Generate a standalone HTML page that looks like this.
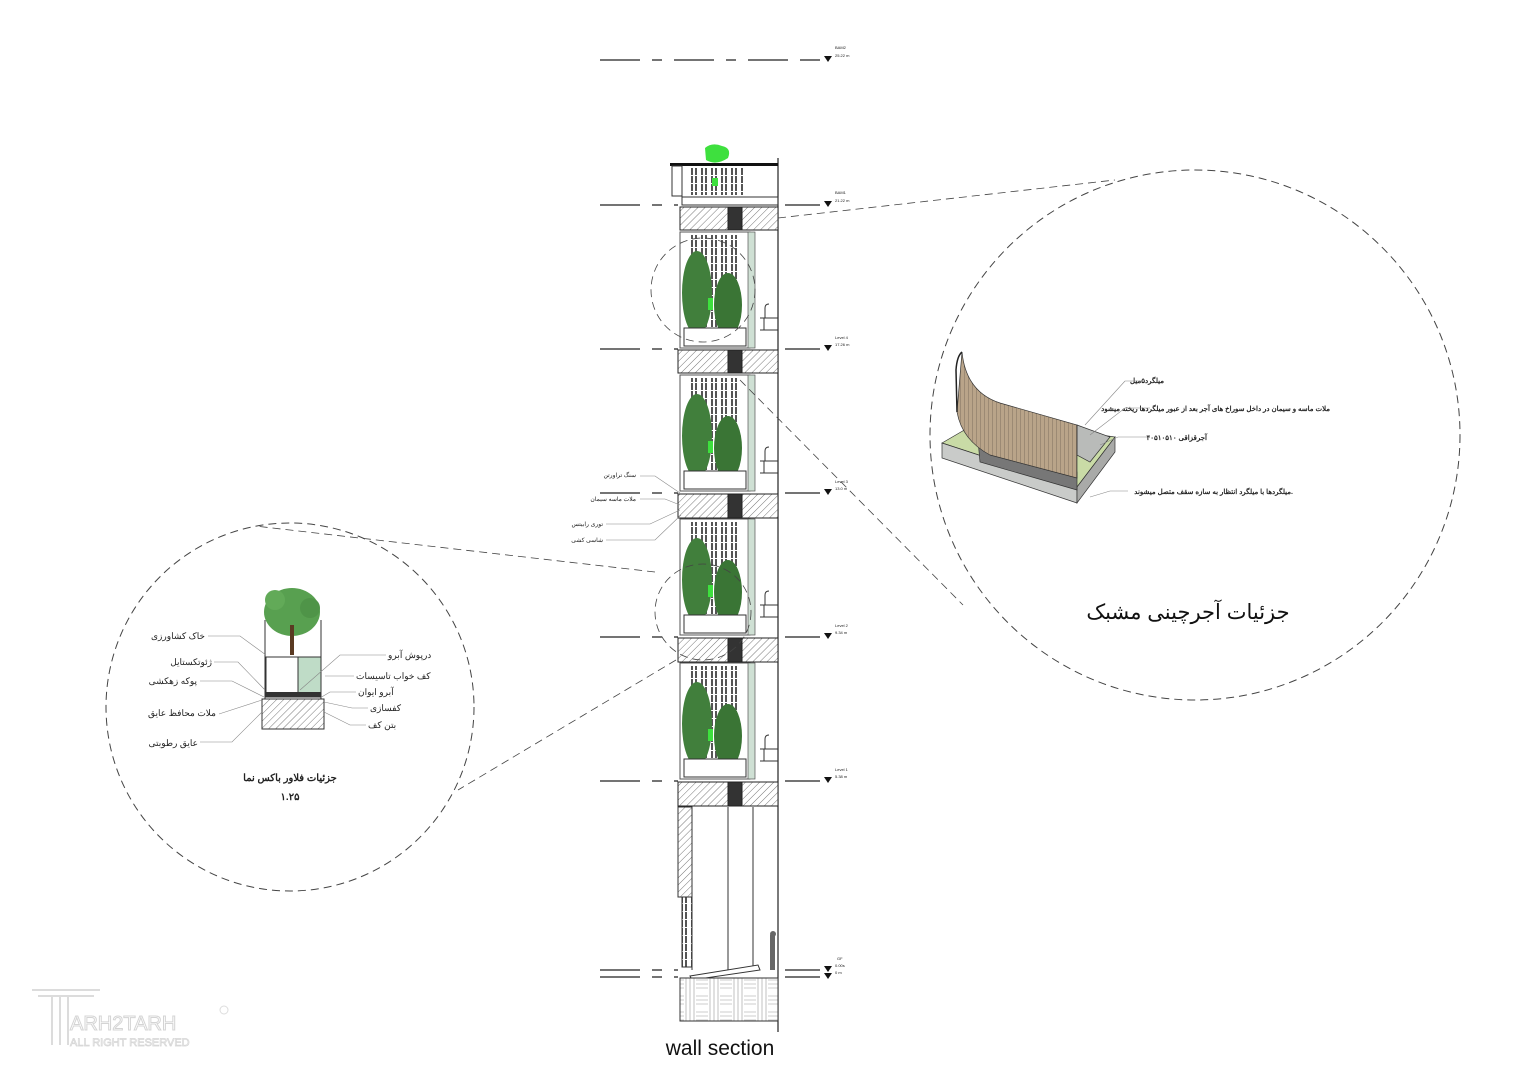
<!DOCTYPE html>
<html><head><meta charset="utf-8"><style>
html,body{margin:0;padding:0;background:#fff;}
svg{display:block;}
text{font-family:"Liberation Sans","Noto Sans CJK SC",sans-serif;}
</style></head><body>
<svg width="1527" height="1080" viewBox="0 0 1527 1080" xmlns="http://www.w3.org/2000/svg">
<defs>
<pattern id="hatch" width="5" height="5" patternUnits="userSpaceOnUse" patternTransform="rotate(45)">
<rect width="5" height="5" fill="#fff"/><line x1="0" y1="0" x2="0" y2="5" stroke="#555" stroke-width="0.8"/></pattern>
<pattern id="brick" width="10" height="8" patternUnits="userSpaceOnUse">
<rect width="10" height="8" fill="#fff"/><rect x="1" y="0" width="2" height="7" fill="#555"/><rect x="5" y="0" width="2" height="7" fill="#555"/></pattern>
<pattern id="stripe" width="4" height="10" patternUnits="userSpaceOnUse">
<rect width="4" height="10" fill="#b9a489"/><line x1="0" y1="0" x2="0" y2="10" stroke="#6f6353" stroke-width="0.8"/></pattern>
<pattern id="pave" width="24" height="16" patternUnits="userSpaceOnUse">
<rect width="24" height="16" fill="#fff"/><path d="M0 4H12M0 8H12M0 12H12M14 0V16M18 0V16M22 0V16" stroke="#999" stroke-width="0.6"/></pattern>
</defs>

<g stroke="#222" stroke-width="1.2" stroke-dasharray="40,12,10,12">
<line x1="600" y1="60" x2="795" y2="60"/>
<line x1="600" y1="205" x2="678" y2="205"/>
<line x1="600" y1="349" x2="678" y2="349"/>
<line x1="600" y1="493" x2="678" y2="493"/>
<line x1="600" y1="637" x2="678" y2="637"/>
<line x1="600" y1="781" x2="678" y2="781"/>
<line x1="600" y1="970" x2="678" y2="970"/>
<line x1="600" y1="977" x2="678" y2="977"/>
</g>
<g stroke="#222" stroke-width="1.2">
<line x1="785" y1="205" x2="820" y2="205"/><line x1="785" y1="349" x2="820" y2="349"/>
<line x1="785" y1="493" x2="820" y2="493"/><line x1="785" y1="637" x2="820" y2="637"/>
<line x1="785" y1="781" x2="820" y2="781"/><line x1="785" y1="970" x2="820" y2="970"/>
<line x1="785" y1="977" x2="820" y2="977"/><line x1="800" y1="60" x2="820" y2="60"/>
</g>
<g fill="#111">
<path d="M824 56h8l-4 6z"/><path d="M824 201h8l-4 6z"/><path d="M824 345h8l-4 6z"/><path d="M824 489h8l-4 6z"/><path d="M824 633h8l-4 6z"/><path d="M824 777h8l-4 6z"/><path d="M824 966h8l-4 6z"/><path d="M824 973h8l-4 6z"/>
</g>
<g font-size="4" fill="#222">
<text x="835" y="49">BAM2</text><text x="835" y="57">25.22 m</text>
<text x="835" y="194">BAM1</text><text x="835" y="202">21.22 m</text>
<text x="835" y="339">Level 4</text><text x="835" y="346">17.26 m</text>
<text x="835" y="483">Level 3</text><text x="835" y="490">13.0 m</text>
<text x="835" y="627">Level 2</text><text x="835" y="634">9.34 m</text>
<text x="835" y="771">Level 1</text><text x="835" y="778">5.38 m</text>
<text x="837" y="960">GF</text><text x="835" y="967">0.00s</text><text x="835" y="974">0 m</text>
</g>

<line x1="778" y1="158" x2="778" y2="1032" stroke="#222" stroke-width="1.2"/>

<path d="M705 148 Q712 142 722 146 Q732 148 728 158 Q716 166 706 160Z" fill="#3ee03e"/>
<rect x="670" y="163" width="108" height="3" fill="#111"/>
<rect x="672" y="166" width="10" height="30" fill="none" stroke="#333"/>
<rect x="688" y="167" width="55" height="28" fill="url(#brick)"/>
<rect x="712" y="178" width="6" height="8" fill="#3ee03e"/>
<rect x="682" y="197" width="96" height="8" fill="none" stroke="#333"/>

<g stroke="#222" stroke-width="1">
<rect x="680" y="207" width="98" height="23" fill="url(#hatch)"/><rect x="728" y="207" width="14" height="23" fill="#333"/>
<rect x="678" y="350" width="100" height="23" fill="url(#hatch)"/><rect x="728" y="350" width="14" height="23" fill="#333"/>
<rect x="678" y="494" width="100" height="24" fill="url(#hatch)"/><rect x="728" y="494" width="14" height="24" fill="#333"/>
<rect x="678" y="638" width="100" height="24" fill="url(#hatch)"/><rect x="728" y="638" width="14" height="24" fill="#333"/>
<rect x="678" y="782" width="100" height="24" fill="url(#hatch)"/><rect x="728" y="782" width="14" height="24" fill="#333"/>
</g>

<g id="fl">
<rect x="680" y="232" width="70" height="116" fill="#fff" stroke="#555"/>
<rect x="690" y="235" width="48" height="95" fill="url(#brick)"/>
<rect x="748" y="232" width="7" height="116" fill="#cfe0d4" stroke="#555" stroke-width="0.7"/>
<ellipse cx="697" cy="293" rx="15" ry="42" fill="#417f3c"/>
<ellipse cx="728" cy="305" rx="14" ry="32" fill="#3a7535"/>
<rect x="708" y="298" width="5" height="12" fill="#3ee03e"/>
<rect x="684" y="328" width="62" height="18" fill="#fff" stroke="#333"/>
<path d="M760 318h18M760 330h18M764 318v12" stroke="#333" fill="none"/>
<path d="M765 318v-10q0-4 4-4" stroke="#333" fill="none"/>
</g>
<use href="#fl" y="143"/>
<use href="#fl" y="287"/>
<use href="#fl" y="431"/>

<rect x="678" y="807" width="14" height="90" fill="url(#hatch)" stroke="#333"/>
<rect x="682" y="897" width="10" height="70" fill="url(#brick)" stroke="#333"/>
<line x1="692" y1="807" x2="692" y2="970" stroke="#333"/>
<line x1="728" y1="807" x2="728" y2="970" stroke="#333"/>
<line x1="753" y1="807" x2="753" y2="970" stroke="#333"/>
<path d="M690 976 L758 965 L760 970 L692 980Z" fill="#fff" stroke="#333"/>
<rect x="770" y="935" width="5" height="35" fill="#666"/><circle cx="773" cy="934" r="3" fill="#666"/>
<rect x="680" y="978" width="98" height="43" fill="url(#pave)" stroke="#333"/>

<circle cx="703" cy="290" r="52" fill="none" stroke="#444" stroke-dasharray="8,5" stroke-width="0.8"/>
<circle cx="703" cy="612" r="48" fill="none" stroke="#444" stroke-dasharray="8,5" stroke-width="0.8"/>

<circle cx="1195" cy="435" r="265" fill="none" stroke="#444" stroke-dasharray="8,5" stroke-width="1"/>
<circle cx="290" cy="707" r="184" fill="none" stroke="#444" stroke-dasharray="8,5" stroke-width="1"/>
<g stroke="#444" stroke-dasharray="8,5" stroke-width="0.8" fill="none">
<line x1="778" y1="218" x2="1115" y2="180"/>
<line x1="740" y1="380" x2="963" y2="605"/>
<line x1="655" y1="572" x2="255" y2="526"/>
<line x1="676" y1="660" x2="458" y2="790"/>
</g>

<g font-size="6" fill="#222" text-anchor="end">
<text x="636" y="477">سنگ تراورتن</text>
<text x="636" y="501">ملات ماسه سیمان</text>
<text x="603" y="526">توری رابیتس</text>
<text x="603" y="542">شاسی کشی</text>
</g>
<g stroke="#888" stroke-width="0.6" fill="none">
<path d="M640 476 L655 476 L680 493"/><path d="M640 499 L665 499 L680 505"/>
<path d="M606 524 L650 524 L680 510"/><path d="M606 540 L655 540 L681 515"/>
</g>

<g>
<ellipse cx="292" cy="612" rx="28" ry="24" fill="#58a050"/>
<circle cx="275" cy="600" r="10" fill="#62aa58"/><circle cx="310" cy="608" r="10" fill="#4f9448"/>
<rect x="290" y="625" width="4" height="30" fill="#5a3a22"/>
<line x1="265" y1="620" x2="265" y2="700" stroke="#333"/><line x1="321" y1="620" x2="321" y2="700" stroke="#333"/>
<rect x="266" y="657" width="32" height="40" fill="#fff" stroke="#333"/>
<rect x="298" y="657" width="23" height="40" fill="#bfdcc7" stroke="#333"/>
<rect x="266" y="692" width="55" height="5" fill="#333"/>
<rect x="262" y="699" width="62" height="30" fill="url(#hatch)" stroke="#333"/>
</g>
<g font-size="9" fill="#222" text-anchor="end">
<text x="205" y="639">خاک کشاورزی</text>
<text x="212" y="665">ژئوتکستایل</text>
<text x="197" y="684">پوکه زهکشی</text>
<text x="216" y="716">ملات محافظ عایق</text>
<text x="198" y="746">عایق رطوبتی</text>
</g>
<g font-size="9" fill="#222">
<text x="388" y="658">درپوش آبرو</text>
<text x="356" y="679">کف خواب تاسیسات</text>
<text x="358" y="695">آبرو ایوان</text>
<text x="370" y="711">کفسازی</text>
<text x="368" y="728">بتن کف</text>
</g>
<g stroke="#888" stroke-width="0.6" fill="none">
<path d="M208 636 H240 L266 655"/><path d="M214 662 H238 L265 690"/><path d="M200 681 H232 L264 697"/>
<path d="M219 714 L262 700"/><path d="M200 742 H232 L262 712"/>
<path d="M386 655 H340 L300 690"/><path d="M354 676 H325"/><path d="M356 692 H330 L320 698"/>
<path d="M368 708 H352 L324 702"/><path d="M366 725 H350 L324 712"/>
</g>
<text x="290" y="781" font-size="10" font-weight="bold" text-anchor="middle" fill="#222">جزئیات فلاور باکس نما</text>
<text x="290" y="800" font-size="10" font-weight="bold" text-anchor="middle" fill="#222">۱.۲۵</text>

<!-- right iso detail -->
<g stroke="#333" stroke-width="0.7">
<path d="M942 443 L985 418 L1115 437 L1077 487Z" fill="#c9dba6"/>
<path d="M942 443 L1077 487 L1077 503 L942 458Z" fill="#c9cbc9"/>
<path d="M1077 487 L1115 437 L1115 452 L1077 503Z" fill="#a9aaa8"/>
<path d="M1077 425 L1110 437 L1090 462 L1077 455Z" fill="#b9bbb9"/>
<path d="M978 440 L1077 472 L1077 490 L980 462Z" fill="#777"/>
<path d="M962 352 Q966 392 1000 403 L1077 425 L1077 478 L990 455 Q962 440 957 412 Z" fill="url(#stripe)"/>
<path d="M962 352 Q957 356 956 370 L957 412" fill="none" stroke="#222" stroke-width="1.5"/>
</g>
<g font-size="7" font-weight="bold" fill="#222" text-anchor="end">
<text x="1164" y="383">میلگرد۵میل</text>
<text x="1330" y="411">ملات ماسه و سیمان در داخل سوراخ های آجر بعد از عبور میلگردها ریخته میشود</text>
<text x="1207" y="440">آجرقزاقی ۴۰۵۱۰۵۱۰</text>
<text x="1293" y="494">میلگردها با میلگرد انتظار به سازه سقف متصل میشوند.</text>
</g>
<g stroke="#888" stroke-width="0.6" fill="none">
<path d="M1142 381 H1125 L1085 425"/><path d="M1150 408 H1125 L1090 435"/>
<path d="M1150 437 H1118 L1100 445"/><path d="M1128 491 H1110 L1090 497"/>
</g>
<text x="1188" y="619" font-size="21" text-anchor="middle" fill="#111">جزئیات آجرچینی مشبک</text>

<text x="720" y="1055" font-size="21" text-anchor="middle" fill="#111">wall section</text>

<g fill="none" stroke="#dcdcdc" stroke-width="2">
<path d="M32 990 H100 M38 996 H94 M52 996 V1045 M60 996 V1045 M68 996 V1045"/>
</g>
<text x="70" y="1030" font-size="20" fill="#fff" stroke="#d4d4d4" stroke-width="1">ARH2TARH</text>
<text x="70" y="1046" font-size="11" fill="#fff" stroke="#d4d4d4" stroke-width="0.7">ALL RIGHT RESERVED</text>
<circle cx="224" cy="1010" r="4" fill="none" stroke="#ddd"/>
</svg>
</body></html>
